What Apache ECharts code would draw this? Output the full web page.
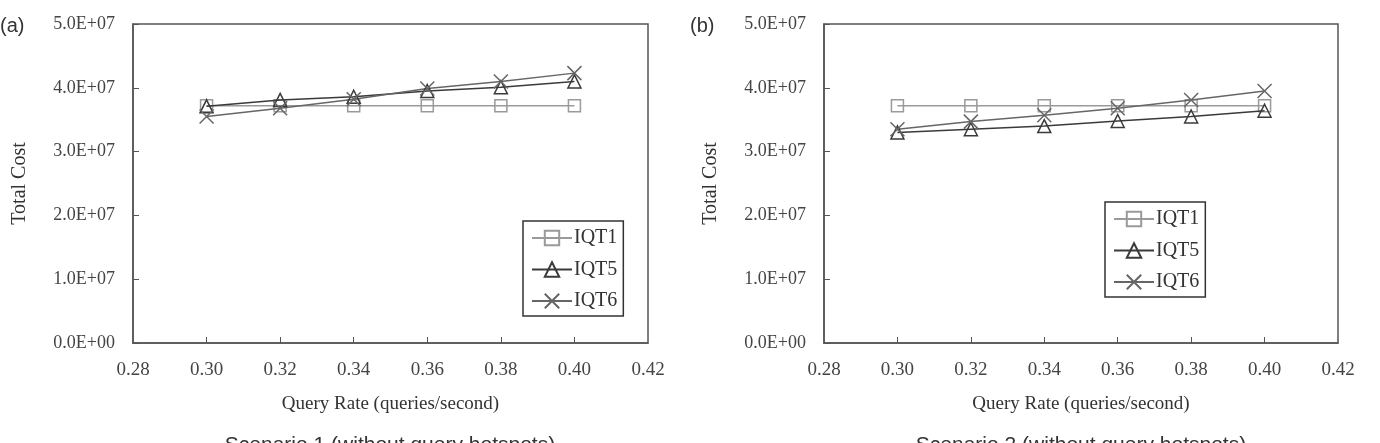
<!DOCTYPE html>
<html>
<head>
<meta charset="utf-8">
<script src="https://cdn.jsdelivr.net/npm/echarts@6/dist/echarts.min.js"></script>
<style>
html,body{margin:0;padding:0;background:#fff;}
#chart{width:1380px;height:443px;}
</style>
</head>
<body>
<div id="chart"></div>
<script>
// ---- data ----
const queryRates = [0.30, 0.32, 0.34, 0.36, 0.38, 0.40];
const seriesNames = ['IQT1', 'IQT5', 'IQT6'];
// Scenario 1 (panel a)
const s1_IQT1 = [3.72e7, 3.72e7, 3.72e7, 3.72e7, 3.72e7, 3.72e7];
const s1_IQT5 = [3.71e7, 3.81e7, 3.86e7, 3.95e7, 4.01e7, 4.10e7];
const s1_IQT6 = [3.55e7, 3.68e7, 3.82e7, 3.99e7, 4.10e7, 4.23e7];
// Scenario 2 (panel b)
const s2_IQT1 = [3.72e7, 3.72e7, 3.72e7, 3.72e7, 3.72e7, 3.72e7];
const s2_IQT5 = [3.30e7, 3.35e7, 3.40e7, 3.48e7, 3.55e7, 3.64e7];
const s2_IQT6 = [3.35e7, 3.47e7, 3.57e7, 3.68e7, 3.81e7, 3.95e7];
const panelLabels = ['(a)', '(b)'];
const captions = ['Scenario 1 (without query hotspots)', 'Scenario 2 (without query hotspots)'];
const xAxisTitle = 'Query Rate (queries/second)';
const yAxisTitle = 'Total Cost';

// ---- styling ----
const serif = '"Liberation Serif", "Times New Roman", serif';
const sans = '"Liberation Sans", Arial, sans-serif';
const colors = { IQT1: '#9a9a9a', IQT5: '#3a3a3a', IQT6: '#666666' };
const symbols = {
  IQT1: 'rect',
  IQT5: 'triangle',
  IQT6: 'path://M0,0L10,10M10,0L0,10'
};
const symbolSizes = { IQT1: 12, IQT5: 13, IQT6: 14 };

function expFmt(v) {
  if (v === 0) return '0.0E+00';
  const e = Math.floor(Math.log10(Math.abs(v)) + 1e-9);
  const m = v / Math.pow(10, e);
  return m.toFixed(1) + 'E+' + String(e).padStart(2, '0');
}

const grids = [
  { left: 133, top: 24, width: 515, height: 319 },
  { left: 824, top: 24, width: 514, height: 319 }
];

const panelData = [
  { IQT1: s1_IQT1, IQT5: s1_IQT5, IQT6: s1_IQT6 },
  { IQT1: s2_IQT1, IQT5: s2_IQT5, IQT6: s2_IQT6 }
];

const xAxes = [], yAxes = [], series = [];
grids.forEach((g, i) => {
  xAxes.push({
    type: 'value', gridIndex: i, min: 0.28, max: 0.42, interval: 0.02,
    name: xAxisTitle, nameLocation: 'middle', nameGap: 52,
    nameTextStyle: { fontFamily: serif, fontSize: 19, color: '#333' },
    axisLine: { show: true, onZero: false, lineStyle: { color: '#555', width: 1.5 } },
    axisTick: { show: true, inside: true, length: 6, lineStyle: { color: '#555' },
      customValues: queryRates },
    axisLabel: { fontFamily: serif, fontSize: 19, color: '#444', margin: 18,
      formatter: v => v.toFixed(2) },
    splitLine: { show: false }
  });
  yAxes.push({
    type: 'value', gridIndex: i, min: 0, max: 5e7, interval: 1e7,
    name: yAxisTitle, nameLocation: 'middle', nameGap: 103, nameRotate: 90,
    nameTextStyle: { fontFamily: serif, fontSize: 20, color: '#333' },
    axisLine: { show: true, lineStyle: { color: '#555', width: 1.5 } },
    axisTick: { show: true, inside: true, length: 6, lineStyle: { color: '#555' } },
    axisLabel: { fontFamily: serif, fontSize: 18, color: '#444', margin: 18,
      formatter: expFmt },
    splitLine: { show: false }
  });
  seriesNames.forEach(n => {
    series.push({
      name: n, type: 'line', xAxisIndex: i, yAxisIndex: i,
      data: queryRates.map((x, k) => [x, panelData[i][n][k]]),
      symbol: symbols[n], symbolSize: symbolSizes[n],
      showAllSymbol: true,
      lineStyle: { color: colors[n], width: 1.5 },
      itemStyle: { color: 'rgba(255,255,255,0)', borderColor: colors[n], borderWidth: 1.5 },
      emphasis: { disabled: true },
      animation: false, z: n === 'IQT1' ? 2 : 3
    });
  });
});

const legendBase = {
  orient: 'vertical', data: seriesNames,
  itemWidth: 40, itemHeight: 18, itemGap: 11.5,
  padding: [7, 6, 5, 8],
  borderColor: '#333', borderWidth: 1.5, backgroundColor: '#fff',
  textStyle: { fontFamily: serif, fontSize: 20, color: '#333', lineHeight: 18, padding: [0, 0, 0, -3] },
  selectedMode: false
};

const option = {
  animation: false,
  backgroundColor: '#fff',
  grid: grids.map(g => Object.assign({ show: true, borderColor: '#555', borderWidth: 1.5, backgroundColor: 'transparent' }, g)),
  xAxis: xAxes,
  yAxis: yAxes,
  legend: [
    Object.assign({}, legendBase, { left: 523, top: 221 }),
    Object.assign({}, legendBase, { left: 1105, top: 202 })
  ],
  series: series,
  graphic: [
    { type: 'text', left: 0, top: 16, style: { text: panelLabels[0], font: '20px ' + sans, fill: '#333' } },
    { type: 'text', left: 690, top: 16, style: { text: panelLabels[1], font: '20px ' + sans, fill: '#333' } },
    { type: 'text', x: 390, y: 435, style: { text: captions[0], font: '21px ' + sans, fill: '#333', textAlign: 'center', textVerticalAlign: 'top' } },
    { type: 'text', x: 1081, y: 435, style: { text: captions[1], font: '21px ' + sans, fill: '#333', textAlign: 'center', textVerticalAlign: 'top' } }
  ]
};

const chart = echarts.init(document.getElementById('chart'), null, { renderer: 'canvas' });
chart.setOption(option);
</script>
</body>
</html>
